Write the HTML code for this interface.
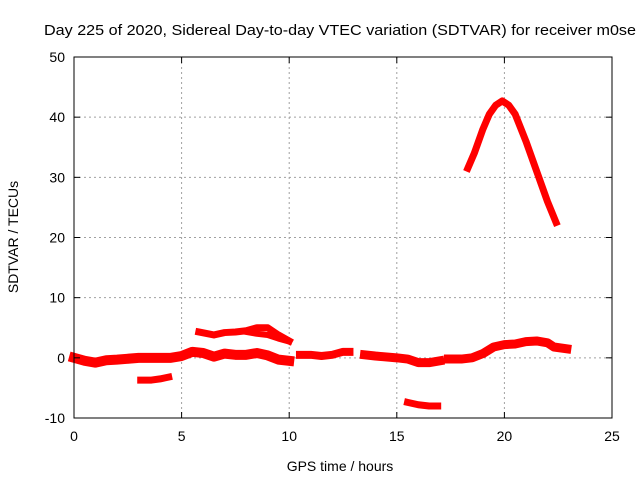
<!DOCTYPE html>
<html><head><meta charset="utf-8"><style>
body{margin:0;background:#fff;font-family:"Liberation Sans",sans-serif}
svg text{font-family:"Liberation Sans",sans-serif;font-size:14px;fill:#000}
</style></head><body>
<svg id="chart" width="640" height="480" xmlns="http://www.w3.org/2000/svg">
<text x="44" y="35" textLength="592" lengthAdjust="spacingAndGlyphs" style="font-size:15px">Day 225 of 2020, Sidereal Day-to-day VTEC variation (SDTVAR) for receiver m0se</text>
<text x="340" y="471" text-anchor="middle">GPS time / hours</text>
<text transform="translate(18,237) rotate(-90)" text-anchor="middle">SDTVAR / TECUs</text>
<g id="grid"></g><g id="marks"></g><g id="axes"></g>
</svg>
<script>
const xTicks=[0,5,10,15,20,25];
const yTicks=[-10,0,10,20,30,40,50];
const segLowMorning=[[0,0],[0.5,-0.5],[1,-0.8],[1.5,-0.4],[2,-0.3],[3,0],[4,0],[4.5,0],[5,0.3],[5.5,1],[6,0.8],[6.5,0.2],[7,0.7],[7.5,0.5],[8,0.5],[8.5,0.8],[9,0.4],[9.5,-0.3],[10,-0.5]];
const segDip=[[3.1,-3.7],[3.6,-3.7],[4.0,-3.5],[4.4,-3.2]];
const segUpper=[[5.8,4.3],[6.5,3.8],[7,4.2],[7.5,4.3],[8,4.5],[8.5,5],[9,5],[9.5,3.8],[10,2.8]];
const segUpperBranch=[[8,4.3],[8.5,4],[9,3.8],[9.5,3.2],[10,2.7]];
const segNoon=[[10.5,0.5],[11,0.5],[11.5,0.3],[12,0.5],[12.5,1],[12.8,1]];
const segAfternoon=[[13.5,0.5],[14,0.3],[15,0],[15.5,-0.2],[16,-0.8],[16.5,-0.8],[17,-0.5]];
const segLowDip=[[15.5,-7.4],[16,-7.8],[16.5,-8],[16.9,-8]];
const segEvening=[[17.4,-0.2],[18,-0.2],[18.5,0],[19,0.7],[19.5,1.8],[20,2.2],[20.5,2.3],[21,2.7],[21.5,2.8],[22,2.5],[22.3,1.8],[22.9,1.5]];
const segPeak=[[18.3,31.5],[18.6,34],[19,38],[19.3,40.5],[19.6,42],[19.9,42.7],[20.2,42],[20.5,40.5],[21,36],[21.5,31],[22,26],[22.4,22.5]];
const series=[segLowMorning,segDip,segUpper,segUpperBranch,segNoon,segAfternoon,segLowDip,segEvening,segPeak];
const widths=[10,7,7,6,8,9,7,9,7];
const X0=74,X1=612,Y0=418,Y1=57;
const xs=v=>X0+(v-0)/25*(X1-X0);
const ys=v=>Y0-(v+10)/60*(Y0-Y1);
const NS="http://www.w3.org/2000/svg";
const grid=document.getElementById('grid'),axes=document.getElementById('axes'),marks=document.getElementById('marks');
function mk(t,a,p){const e=document.createElementNS(NS,t);for(const k in a)e.setAttribute(k,a[k]);p.appendChild(e);return e;}
xTicks.forEach(t=>{const x=xs(t);
 if(t>0&&t<25){const g=mk('line',{x1:x,x2:x,y1:Y1,y2:Y0,stroke:'#a0a0a0','stroke-dasharray':'2,3'},grid);
 
 }
 const tk=mk('text',{x:x,y:Y0+23,'text-anchor':'middle'},axes);tk.textContent=t;
 
 
 mk('line',{x1:x,x2:x,y1:Y0,y2:Y0-6,stroke:'#000'},axes);mk('line',{x1:x,x2:x,y1:Y1,y2:Y1+6,stroke:'#000'},axes);});
yTicks.forEach(t=>{const y=ys(t);
 if(t>-10&&t<50){const g=mk('line',{x1:X0,x2:X1,y1:y,y2:y,stroke:'#a0a0a0','stroke-dasharray':'2,3'},grid);
 
 }
 const tk=mk('text',{x:X0-9,y:y+5,'text-anchor':'end'},axes);tk.textContent=t;
 
 
 mk('line',{x1:X0,x2:X0+6,y1:y,y2:y,stroke:'#000'},axes);mk('line',{x1:X1,x2:X1-6,y1:y,y2:y,stroke:'#000'},axes);});
const fr=mk('rect',{x:X0,y:Y1,width:X1-X0,height:Y0-Y1,fill:'none',stroke:'#000','stroke-width':1},axes);


series.forEach((s,i)=>{
 const pl=mk('polyline',{points:s.map(p=>xs(p[0])+','+ys(p[1])).join(' '),fill:'none',stroke:'#ff0000','stroke-width':widths[i],'stroke-linejoin':'round','stroke-linecap':'square'},marks);
 
 
});
</script>
</body></html>
